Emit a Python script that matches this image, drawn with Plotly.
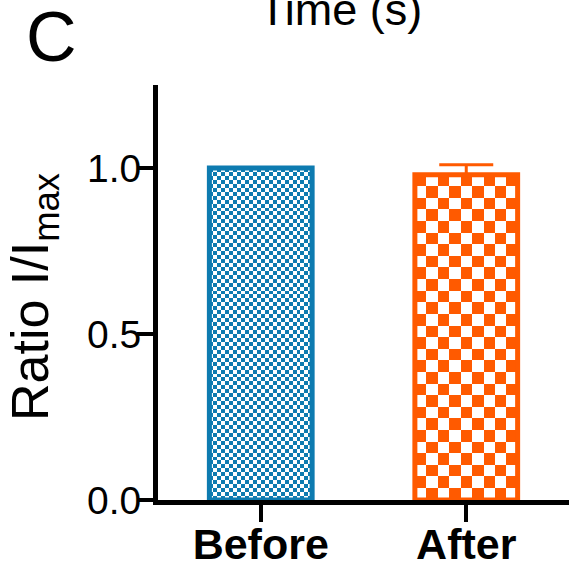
import numpy as np
import plotly.graph_objects as go

# ---- data ----
categories = ["Before", "After"]
values = [1.0, 0.98]
errors_up = [0.0, 0.03]
colors = ["#0e7bb0", "#ff5a00"]

# ---- style constants ----
FONT = "Arial, 'Liberation Sans', sans-serif"
W, H = 569, 567
ML, MR, MT, MB = 158, 0, 85, 67
X_RANGE = [-0.5, 1.5]
Y_RANGE = [0, 1.25]
BAR_W = 0.5
CHECK_COLS = [26, 9]  # checkerboard cells across each bar

px_per_x = (W - ML - MR) / (X_RANGE[1] - X_RANGE[0])
px_per_y = (H - MT - MB) / (Y_RANGE[1] - Y_RANGE[0])
pw, ph = W - ML - MR, H - MT - MB

positions = list(range(len(categories)))

fig = go.Figure()

# checkerboard fills (drawn under the bar outlines)
for i, (pos, val, col) in enumerate(zip(positions, values, colors)):
    nx = CHECK_COLS[i]
    cell_px = BAR_W * px_per_x / nx
    ny = max(1, int(round(val * px_per_y / cell_px)))
    xe = np.linspace(pos - BAR_W / 2, pos + BAR_W / 2, nx + 1)
    ye = np.linspace(0, val, ny + 1)
    jj, ii = np.meshgrid(np.arange(nx), np.arange(ny))
    z = ((ii + jj) % 2).astype(float)
    fig.add_trace(go.Heatmap(
        x=xe, y=ye, z=z, zmin=0, zmax=1,
        colorscale=[[0, "white"], [1, col]],
        showscale=False, hoverinfo="skip", zsmooth=False,
    ))

# bar outlines + error bars
for i, (pos, val, err, col) in enumerate(zip(positions, values, errors_up, colors)):
    eb = dict(visible=False)
    if err > 0:
        eb = dict(type="data", array=[err], arrayminus=[0], symmetric=False,
                  color=col, thickness=3, width=27, visible=True)
    fig.add_trace(go.Bar(
        x=[pos], y=[val], width=BAR_W,
        marker=dict(color="rgba(0,0,0,0)", line=dict(color=col, width=5)),
        error_y=eb, showlegend=False, name=categories[i],
    ))

fig.update_layout(
    width=W, height=H,
    margin=dict(l=ML, r=MR, t=MT, b=MB, pad=0),
    plot_bgcolor="white", paper_bgcolor="white",
    font=dict(family=FONT, color="black"),
    showlegend=False,
    xaxis=dict(
        range=X_RANGE, tickvals=positions, ticktext=categories,
        showline=True, linecolor="black", linewidth=5,
        ticks="outside", ticklen=17, tickwidth=4, tickcolor="black",
        tickfont=dict(size=43, family=FONT, weight="bold", color="black"),
        ticklabelstandoff=-15,
        showgrid=False, zeroline=False, fixedrange=True, automargin=False,
    ),
    yaxis=dict(
        range=Y_RANGE, tickvals=[0, 0.5, 1.0], tickformat=".1f",
        showline=True, linecolor="black", linewidth=5,
        ticks="outside", ticklen=16, tickwidth=4, tickcolor="black",
        tickfont=dict(size=39, family=FONT, color="black"),
        ticklabelstandoff=-12,
        showgrid=False, zeroline=False, automargin=False,
    ),
    annotations=[
        dict(text="Ratio I/I<sub>max</sub>", textangle=-90, xref="paper", yref="paper",
             x=(34 - ML) / pw, y=(H - MB - 297) / ph, xanchor="center", yanchor="middle",
             showarrow=False, font=dict(size=52, family=FONT, color="black")),
        dict(text="C", xref="paper", yref="paper", x=(52 - ML) / pw,
             y=1 + (MT - 37) / ph, xanchor="center", yanchor="middle",
             showarrow=False, font=dict(size=70, family=FONT, color="black")),
        dict(text="Time (s)", xref="paper", yref="paper", x=(340 - ML) / pw,
             y=1 + (MT - 9) / ph, xanchor="center", yanchor="middle",
             showarrow=False, font=dict(size=45, family=FONT, color="black")),
    ],
)

fig.write_html("out.html")
